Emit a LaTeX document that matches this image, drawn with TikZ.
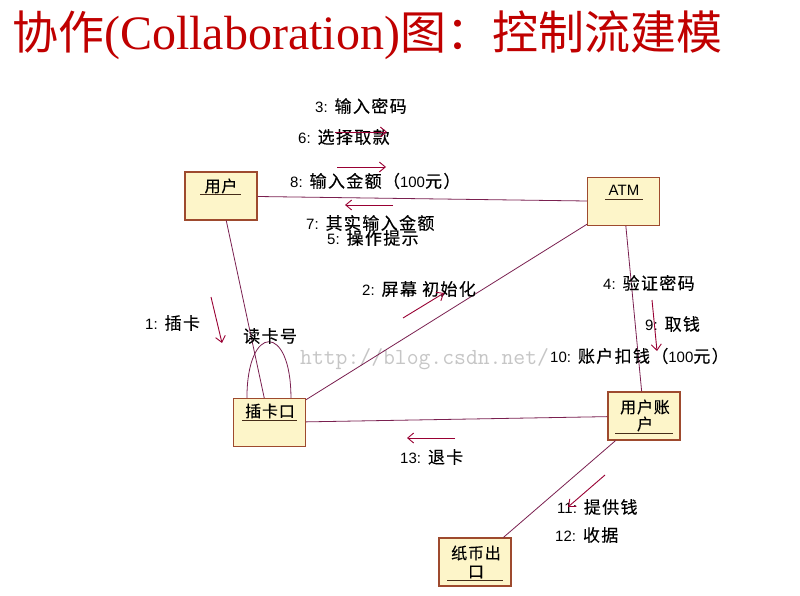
\documentclass[tikz,border=0pt]{standalone}
\usepackage{fontspec}
\usetikzlibrary{arrows.meta}
\setmainfont{Liberation Serif}
\newfontfamily\cjk{Noto Sans CJK SC}
\newfontfamily\cjksp[LetterSpace=8,FakeBold=0.3]{Noto Sans CJK SC}
\newfontfamily\cjkbox[LetterSpace=5,FakeBold=0.3]{Noto Sans CJK SC}
\newfontfamily\numf{Liberation Sans}
\definecolor{titlec}{RGB}{192,0,0}
\definecolor{boxfill}{RGB}{253,245,201}
\definecolor{boxline}{RGB}{158,74,46}
\definecolor{linkc}{RGB}{122,32,80}
\definecolor{msgc}{RGB}{153,0,51}
\definecolor{ulc}{RGB}{70,45,25}
\newcommand{\lblfont}{\cjksp\fontsize{17}{19}\selectfont}
\newcommand{\boxfont}{\cjkbox\fontsize{16}{18}\selectfont}
\newcommand{\nm}[1]{{\numf\fontsize{15}{17}\selectfont #1}}
\begin{document}
\begin{tikzpicture}[x=1pt,y=-1pt,
  box/.style={draw=boxline, fill=boxfill, line width=1.1pt,
    minimum width=72pt, minimum height=48pt, inner sep=0pt},
  boxtxt/.style={font=\boxfont, inner sep=0pt},
  link/.style={draw=linkc, line width=0.8pt},
  msg/.style={draw=msgc, line width=0.9pt,
    -{Straight Barb[length=6pt,width=10pt,line width=0.9pt]}},
  lbl/.style={font=\lblfont, anchor=west, inner sep=0pt},
  uline/.style={draw=ulc, line width=0.9pt}]
\useasboundingbox (0,0) rectangle (800,596);
\fill[white] (0,0) rectangle (800,596);

% heading
\node[anchor=base west, inner sep=0pt, text=titlec] (title) at (12,50)
  {{\cjk\fontsize{46}{46}\selectfont 协作}{\fontsize{48}{48}\selectfont(Collaboration)}{\cjk\fontsize{46}{46}\selectfont 图：控制流建模}};

% faint web address behind the lower labels
\node[anchor=base west, inner sep=0pt, text=gray!45] (wm) at (300,364)
  {\ttfamily\fontsize{23}{23}\selectfont http://blog.csdn.net/};

% objects
\node[box] (u)  at (221,196) {};
\node[box] (a)  at (623.5,201.5) {};
\node[box] (kk) at (269.5,422.5) {};
\node[box] (ua) at (644,416) {};
\node[box] (zb) at (475,562) {};

% links between objects
\draw[link] (u) -- (a);
\draw[link] (u) -- (kk);
\draw[link] (a) -- (kk);
\draw[link] (a) -- (ua);
\draw[link] (kk) -- (ua);
\draw[link] (ua) -- (zb);
\draw[link] ([xshift=14pt]kk.north west) .. controls +(0,-75) and +(0,-75) .. ([xshift=58pt]kk.north west);

% object names, underlined
\node[boxtxt] (u-t) at (221,186) {用户};
\draw[uline] (200,194) -- (241,194);
\node[inner sep=0pt, font=\numf\fontsize{15}{17}\selectfont] (a-t) at (624,190) {ATM};
\draw[uline] (605,199) -- (643,199);
\node[boxtxt] (kk-t) at (270,411) {插卡口};
\draw[uline] (242,420) -- (297,420);
\node[boxtxt] (ua-t1) at (645,407) {用户账};
\node[boxtxt] (ua-t2) at (645,424) {户};
\draw[uline] (615,433) -- (673,433);
\node[boxtxt] (zb-t1) at (476,553) {纸币出};
\node[boxtxt] (zb-t2) at (476,572) {口};
\draw[uline] (447,580) -- (503,580);

% message labels
\node[lbl] (l3)  at (315,106) {\nm{3:} 输入密码};
\node[lbl] (l6)  at (298,137) {\nm{6:} 选择取款};
\node[lbl] (l8)  at (290,181) {\nm{8:} 输入金额（\nm{100}元）};
\node[lbl] (l7)  at (306,223) {\nm{7:} 其实输入金额};
\node[lbl] (l5)  at (327,238) {\nm{5:} 操作提示};
\node[lbl] (l1)  at (145,323) {\nm{1:} 插卡};
\node[lbl] (lr)  at (243,336) {读卡号};
\node[lbl] (l2)  at (362,289) {\nm{2:} 屏幕 初始化};
\node[lbl] (l4)  at (603,283) {\nm{4:} 验证密码};
\node[lbl] (l9)  at (645,324) {\nm{9:} 取钱};
\node[lbl] (l10) at (550,356) {\nm{10:} 账户扣钱（\nm{100}元）};
\node[lbl] (l13) at (400,457) {\nm{13:} 退卡};
\node[lbl] (l11) at (557,507) {\nm{11:} 提供钱};
\node[lbl] (l12) at (555,535) {\nm{12:} 收据};

% message arrows
\coordinate (m3s) at (335,132);  \coordinate (m3e) at (387,132);
\coordinate (m8s) at (337,167);  \coordinate (m8e) at (386,167);
\coordinate (m7s) at (393,205);  \coordinate (m7e) at (345,205);
\coordinate (m1s) at (211,297);  \coordinate (m1e) at (222,343);
\coordinate (m2s) at (403,318);  \coordinate (m2e) at (444,293);
\coordinate (m4s) at (652,300);  \coordinate (m4e) at (657,351);
\coordinate (m13s) at (455,438); \coordinate (m13e) at (407,438);
\coordinate (m11s) at (605,475); \coordinate (m11e) at (568,507);
\draw[msg] (m3s) -- (m3e);
\draw[msg] (m8s) -- (m8e);
\draw[msg] (m7s) -- (m7e);
\draw[msg] (m1s) -- (m1e);
\draw[msg] (m2s) -- (m2e);
\draw[msg] (m4s) -- (m4e);
\draw[msg] (m13s) -- (m13e);
\draw[msg] (m11s) -- (m11e);
\end{tikzpicture}
\end{document}
